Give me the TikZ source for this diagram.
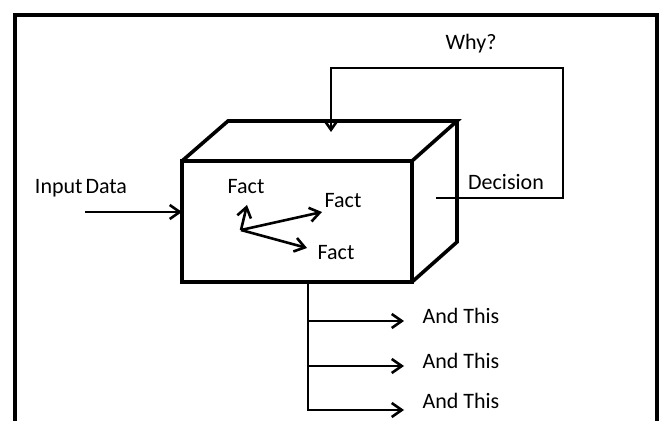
\documentclass[tikz,border=0pt]{standalone}
\usepackage{fontspec}
\setmainfont{Carlito}
\usepackage{tikz}
\usetikzlibrary{arrows.meta,positioning}
\tikzset{
  frameline/.style={line width=2pt},
  boxline/.style={line width=1.8pt, line join=miter},
  face/.style={draw, boxline, rectangle, inner sep=0pt, outer sep=0pt},
  flow/.style={line width=1.3pt, -{Straight Barb[length=5pt,width=7pt,line width=1.3pt]}},
  lbl/.style={inner sep=1pt}
}
\begin{document}
\begin{tikzpicture}[x=0.5pt,y=-0.5pt,font=\fontsize{11}{13}\selectfont]
    \useasboundingbox (0,0) rectangle (662,421);
    \draw[frameline] (15,421) -- (15,15) -- (657,15) -- (657,421);

    % the box
    \node[face, minimum width=115pt, minimum height=60.5pt] (front) at (297,221.5) {};
    \coordinate (backtl) at (228,121);
    \coordinate (backtr) at (457,121);
    \coordinate (backbr) at (457,242);
    \draw[boxline] (front.north west) -- (backtl) -- (backtr) -- (front.north east)
                   (backtr) -- (backbr) -- (front.south east);

    % input
    \node[lbl] (indata) at (81,188) {Input\hspace{-1pt} Data};
    \coordinate (instart) at (85,212);
    \draw[flow] (instart) -- (instart -| front.west);

    % facts
    \coordinate (origin) at (241,230);
    \coordinate (tipa) at (247,205);
    \coordinate (tipb) at (322,212);
    \coordinate (tipc) at (307,248);
    \node[lbl] (facta) at (246,187) {Fact};
    \node[lbl] (factb) at (343,201) {Fact};
    \node[lbl] (factc) at (336,253) {Fact};
    \draw[flow] (origin) -- (tipa);
    \draw[flow] (origin) -- (tipb);
    \draw[flow] (origin) -- (tipc);

    % decision loop
    \node[lbl] (why) at (471,44) {Why?};
    \node[lbl] (decision) at (506,182) {Decision};
    \coordinate (decstart) at (436,198);
    \coordinate (loopcorner) at (563,68);
    \coordinate (loopin) at (331,132);
    \draw[flow] (decstart) -| (loopcorner) -| (loopin);

    % outputs
    \coordinate (trunk) at (308,282);
    \coordinate (outa) at (404,321);
    \coordinate (outb) at (404,366);
    \coordinate (outc) at (404,410);
    \node[lbl] (anda) at (461,316) {And This};
    \node[lbl] (andb) at (461,361) {And This};
    \node[lbl] (andc) at (461,401) {And This};
    \draw[flow] (trunk) |- (outc);
    \draw[flow] (trunk |- outa) -- (outa);
    \draw[flow] (trunk |- outb) -- (outb);
\end{tikzpicture}
\end{document}
